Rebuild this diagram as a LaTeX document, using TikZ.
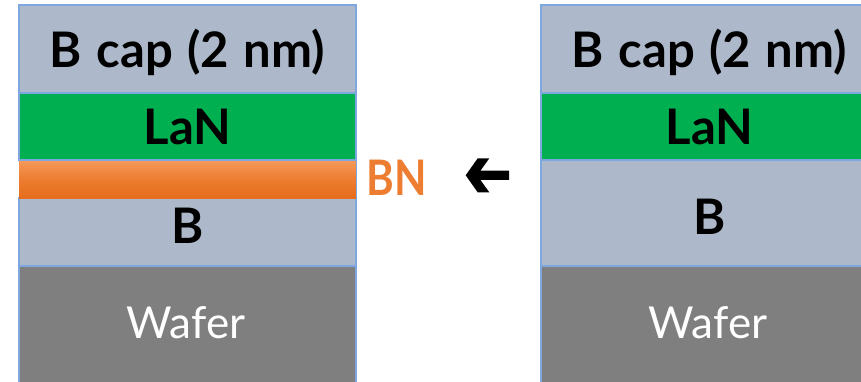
\documentclass[tikz,border=0pt]{standalone}
\usepackage{fontspec}
\setmainfont{Lato}
\definecolor{capblue}{HTML}{ADB9CA}
\definecolor{lanGreen}{HTML}{00B050}
\definecolor{waferGray}{HTML}{7F7F7F}
\definecolor{edgeBlue}{HTML}{7DA7DE}
\definecolor{bnOrange}{HTML}{ED7D31}
\definecolor{bnTop}{HTML}{F49A5C}
\definecolor{bnBot}{HTML}{E66C1C}
% bold layer labels with slightly wider word gaps
\newcommand{\layerfont}{\fontsize{49}{52}\selectfont\bfseries
  \spaceskip=14.5pt plus 2pt minus 1pt\relax}
\newcommand{\waferfont}{\fontsize{44}{48}\selectfont}
\tikzset{
  layer/.style={draw=edgeBlue, line width=1.2pt, rectangle, inner sep=0pt,
    minimum width=337pt},
  lbl/.style={inner sep=0pt, text height=35pt, text depth=0pt,
    font=\layerfont},
  waferlbl/.style={inner sep=0pt, text height=31.5pt, text depth=0pt,
    font=\waferfont, text=white},
}
\begin{document}
\begin{tikzpicture}[x=1pt, y=-1pt]
  \useasboundingbox (0,0) rectangle (861,381);
  \clip (0,0) rectangle (861,381);

  % left stack: B cap / LaN / BN / B / wafer
  \node[layer, fill=waferGray, minimum height=124pt] (lw) at (187.5,328) {};
  \node[layer, fill=capblue, minimum height=68pt] (lb) at (187.5,232) {};
  \node[layer, draw=none, top color=bnTop, bottom color=bnBot,
        middle color=bnOrange, minimum height=39pt] (lbn) at (187.5,179) {};
  \node[layer, fill=lanGreen, minimum height=67pt] (lln) at (187.5,126.5) {};
  \node[layer, fill=capblue, minimum height=88pt] (lcap) at (187.5,49) {};
  \draw[edgeBlue, line width=1.2pt] (lbn.north east) -- (lbn.south east);

  \node[lbl] (tlcap) at (187.5,50) {B cap (2 nm)};
  \node[lbl] (tlln) at (187.5,126.5) {LaN};
  \node[lbl] (tlb) at (187.5,225.5) {B};
  \node[waferlbl] (tlw) at (186,322.5) {Wafer};

  % BN label next to the left stack, set a little narrower
  \node[lbl, text=bnOrange, xscale=0.86, transform shape] (tbn)
    at (397,178) {BN};

  % arrow between the stacks
  \fill[black] (465.7,175.3) -- (477.7,158.3) -- (489.3,158.3) -- (480.4,170.7)
    -- (509,170.7) -- (509,179.9) -- (480.4,179.9) -- (489.3,192.3)
    -- (477.7,192.3) -- cycle;

  % right stack: B cap / LaN / B / wafer
  \node[layer, fill=waferGray, minimum height=124pt] (rw) at (709.5,328) {};
  \node[layer, fill=capblue, minimum height=106pt] (rb) at (709.5,213) {};
  \node[layer, fill=lanGreen, minimum height=67pt] (rln) at (709.5,126.5) {};
  \node[layer, fill=capblue, minimum height=88pt] (rcap) at (709.5,49) {};

  \node[lbl] (trcap) at (709.5,50) {B cap (2 nm)};
  \node[lbl] (trln) at (709.5,126.5) {LaN};
  \node[lbl] (trb) at (709.5,217) {B};
  \node[waferlbl] (trw) at (708,322.5) {Wafer};
\end{tikzpicture}
\end{document}
